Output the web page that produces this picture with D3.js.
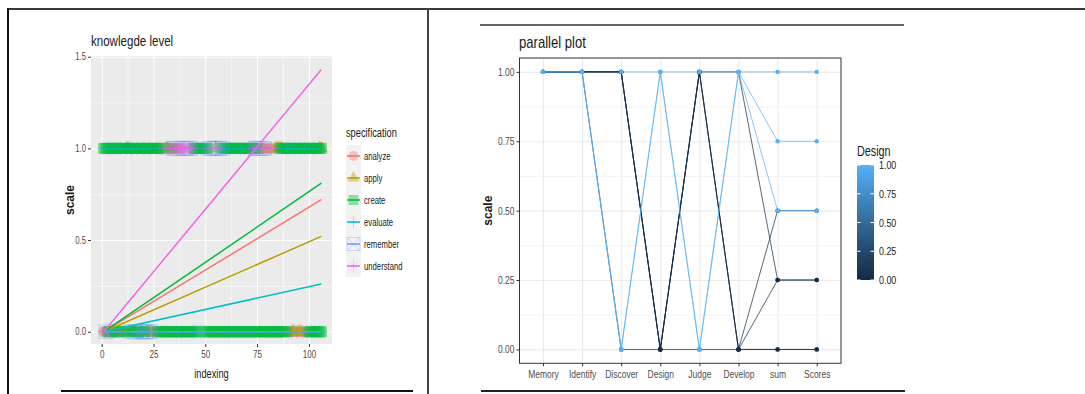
<!DOCTYPE html>
<html>
<head>
<meta charset="utf-8">
<script src="https://cdn.jsdelivr.net/npm/d3@7"></script>
<style>
  body { margin: 0; background: #fff; }
  svg { display: block; font-family: 'Liberation Sans', Arial, sans-serif; }
</style>
</head>
<body>
<script>
// ---------------- left chart data: knowlegde level ----------------
var specs = ['analyze', 'apply', 'create', 'evaluate', 'remember', 'understand'];
var specColors = ['#F8766D', '#B79F00', '#00BA38', '#00BFC4', '#619CFF', '#F564E3'];
var specShapes = ['circle', 'triangle', 'square', 'plus', 'squarecross', 'asterisk'];
// fitted line per specification: value at indexing = fitRange[1] (starts at 0)
var fitRange = [1, 106];
var fitEnd = [0.72, 0.52, 0.81, 0.26, 0.0, 1.43];
// observations per index 1..106: '1' = a point of that spec at that level
var pointsAtOne = [
  '0000000000 0000000000 0000000000 0011011110 0000000000 0000000000 0000000000 0000001110 1100000000 0000000000 000000',
  '0000000000 0110000000 0000000000 1100000000 0000000000 0000100000 0000000000 0000000000 0001111000 0000000000 000011',
  '1111111111 1111111111 1111111110 0001000000 0001111111 1000000111 1111111111 1111100000 0000011111 1111111111 111111',
  '1011010110 0101101001 1010010110 0100101001 1001010100 0110101101 0101001010 1010110100 0100101011 1010010101 011010',
  '0000000000 0000000000 0000000000 0000111011 1110000000 0111111100 0000000000 0001111100 0000000000 0000000000 000000',
  '0000000000 0000000000 0000000001 1110111111 1111000000 0110110000 0000000000 0011011011 1110000000 0000000000 000000'
];
var pointsAtZero = [
  '1100111001 0000111110 0011110000 0000000000 0000000000 0000000000 0000000000 0000000000 0000000001 1111111110 000000',
  '0000000110 1011011010 1111000000 0000000000 0000000000 0000000000 0000000000 0000000000 0000000000 0110110000 000000',
  '0011011100 0110101101 1000001111 1111111111 1111110001 1111111111 1111111111 1111111111 1111111110 0000000001 111111',
  '0101010101 1001001001 0100101010 1010010100 1001111111 0101001010 1010100101 0101010010 1010101001 0101001010 101011',
  '0100000000 0000110011 1110000000 0000000000 0000000000 0000000000 0000000000 0000000000 0000000000 0000000000 000000',
  '1110000100 0000000000 0000000000 0000000000 0000000000 0000000000 0000000000 0000000000 0000000000 0000000000 000000'
];
var xTicksL = [0, 25, 50, 75, 100];
var yTicksL = [0, 0.5, 1.0, 1.5];

// ---------------- right chart data: parallel plot ----------------
var pcAxes = ['Memory', 'Identify', 'Discover', 'Design', 'Judge', 'Develop', 'sum', 'Scores'];
var pcRows = [
  [1, 1, 1, 0, 1, 1, 0.25, 0.25],
  [1, 1, 1, 1, 1, 1, 1, 1],
  [1, 1, 1, 0, 1, 0, 0.25, 0.25],
  [1, 1, 1, 0, 1, 0, 0.5, 0.5],
  [1, 1, 1, 0, 1, 0, 0, 0],
  [1, 1, 0, 0, 0, 0, 0, 0],
  [1, 1, 0, 1, 0, 1, 0.75, 0.75],
  [1, 1, 0, 1, 0, 1, 0.5, 0.5]
];
var yTicksR = [0, 0.25, 0.5, 0.75, 1];

var svg = d3.select('body').append('svg')
    .attr('width', 1085)
    .attr('height', 394);

function shapePath(name, s) {
    var d = s * 0.707;
    switch (name) {
        case 'circle': return d3.symbol(d3.symbolCircle, s * s * 3.1)();
        case 'triangle': return d3.symbol(d3.symbolTriangle, s * s * 2.6)();
        case 'square': return d3.symbol(d3.symbolSquare, s * s * 4)();
        case 'plus': return 'M' + (-s) + ',0H' + s + 'M0,' + (-s) + 'V' + s;
        case 'squarecross': return 'M' + (-s) + ',' + (-s) + 'H' + s + 'V' + s + 'H' + (-s) + 'Z' +
            'M' + (-s) + ',' + (-s) + 'L' + s + ',' + s + 'M' + s + ',' + (-s) + 'L' + (-s) + ',' + s;
        default: return 'M' + (-s) + ',0H' + s + 'M0,' + (-s) + 'V' + s +
            'M' + (-d) + ',' + (-d) + 'L' + d + ',' + d + 'M' + d + ',' + (-d) + 'L' + (-d) + ',' + d;
    }
}
function isFilled(name) { return name === 'circle' || name === 'triangle' || name === 'square'; }

////////////////////////////// left chart //////////////////////////////
var L = {left: 91, right: 332, top: 56, bottom: 344};
var xL = d3.scaleLinear().domain([-5.15, 111.15]).range([L.left, L.right]);
var yL = d3.scaleLinear().domain([-0.067, 1.504]).range([L.bottom, L.top]);

var gL = svg.append('g');
gL.append('rect')
    .attr('x', L.left).attr('y', L.top)
    .attr('width', L.right - L.left).attr('height', L.bottom - L.top)
    .attr('fill', '#EBEBEB');

// grid (minor then major)
gL.append('g').attr('transform', 'translate(0,' + L.bottom + ')')
    .call(d3.axisBottom(xL).tickValues([12.5, 37.5, 62.5, 87.5]).tickSize(-(L.bottom - L.top)).tickFormat(''))
    .call(function(g) { g.select('.domain').remove(); g.selectAll('line').attr('stroke', '#fff').attr('stroke-width', 0.5); });
gL.append('g').attr('transform', 'translate(' + L.left + ',0)')
    .call(d3.axisLeft(yL).tickValues([0.25, 0.75, 1.25]).tickSize(-(L.right - L.left)).tickFormat(''))
    .call(function(g) { g.select('.domain').remove(); g.selectAll('line').attr('stroke', '#fff').attr('stroke-width', 0.5); });
gL.append('g').attr('transform', 'translate(0,' + L.bottom + ')')
    .call(d3.axisBottom(xL).tickValues(xTicksL).tickSize(-(L.bottom - L.top)).tickFormat(''))
    .call(function(g) { g.select('.domain').remove(); g.selectAll('line').attr('stroke', '#fff').attr('stroke-width', 1); });
gL.append('g').attr('transform', 'translate(' + L.left + ',0)')
    .call(d3.axisLeft(yL).tickValues(yTicksL).tickSize(-(L.right - L.left)).tickFormat(''))
    .call(function(g) { g.select('.domain').remove(); g.selectAll('line').attr('stroke', '#fff').attr('stroke-width', 1); });

// points
var pts = [];
specs.forEach(function(s, k) {
    [[pointsAtOne[k], 1], [pointsAtZero[k], 0]].forEach(function(p) {
        p[0].replace(/ /g, '').split('').forEach(function(c, i) {
            if (c === '1') pts.push({spec: k, idx: i + 1, val: p[1]});
        });
    });
});
gL.append('g').selectAll('path')
    .data(pts)
    .enter()
    .append('path')
    .attr('transform', function(d) { return 'translate(' + xL(d.idx) + ',' + yL(d.val) + ')'; })
    .attr('d', function(d) { return shapePath(specShapes[d.spec], isFilled(specShapes[d.spec]) ? 5.5 : 7); })
    .attr('fill', function(d) { return isFilled(specShapes[d.spec]) ? specColors[d.spec] : 'none'; })
    .attr('stroke', function(d) { return isFilled(specShapes[d.spec]) ? 'none' : specColors[d.spec]; })
    .attr('stroke-width', 0.8)
    .attr('opacity', function(d) { return isFilled(specShapes[d.spec]) ? 0.5 : 0.35; });

// fitted lines
gL.append('g').selectAll('line')
    .data(specs)
    .enter()
    .append('line')
    .attr('x1', xL(fitRange[0])).attr('y1', yL(0))
    .attr('x2', xL(fitRange[1]))
    .attr('y2', function(d, i) { return yL(fitEnd[i]); })
    .attr('stroke', function(d, i) { return specColors[i]; })
    .attr('stroke-width', 1.5);

// axes
gL.append('g').attr('transform', 'translate(0,' + L.bottom + ')')
    .call(d3.axisBottom(xL).tickValues(xTicksL).tickFormat(d3.format('d')).tickSize(3).tickPadding(4))
    .call(function(g) {
        g.select('.domain').remove();
        g.selectAll('line').attr('stroke', '#333');
        g.selectAll('text').attr('fill', '#4D4D4D').attr('font-size', '10.5px').attr('font-family', null);
    });
gL.append('g').attr('transform', 'translate(' + L.left + ',0)')
    .call(d3.axisLeft(yL).tickValues(yTicksL).tickFormat(d3.format('.1f')).tickSize(3).tickPadding(2))
    .call(function(g) {
        g.select('.domain').remove();
        g.selectAll('line').attr('stroke', '#333');
        g.selectAll('text').attr('fill', '#4D4D4D').attr('font-size', '10px').attr('font-family', null);
    });

gL.append('text').attr('x', 91).attr('y', 46).attr('font-size', '15px').attr('fill', '#1a1a1a').text('knowlegde level');
gL.append('text').attr('x', (L.left + L.right) / 2).attr('y', 378).attr('text-anchor', 'middle')
    .attr('font-size', '12px').attr('fill', '#1a1a1a').text('indexing');
gL.append('text').attr('class', 'rot')
    .attr('transform', 'translate(74,' + (L.top + L.bottom) / 2 + ') rotate(-90)')
    .attr('text-anchor', 'middle').attr('font-size', '12px').attr('font-weight', 'bold')
    .attr('fill', '#1a1a1a').text('scale');

// legend
var legL = gL.append('g').attr('transform', 'translate(346,145)');
legL.append('text').attr('x', 0).attr('y', -8).attr('font-size', '12px').attr('fill', '#1a1a1a').text('specification');
var keys = legL.selectAll('.key')
    .data(specs)
    .enter()
    .append('g')
    .attr('class', 'key')
    .attr('transform', function(d, i) { return 'translate(0,' + (i * 22) + ')'; });
keys.append('rect').attr('width', 15).attr('height', 22).attr('fill', '#F2F2F2');
keys.append('line').attr('x1', 1).attr('x2', 14).attr('y1', 11).attr('y2', 11)
    .attr('stroke', function(d, i) { return specColors[i]; }).attr('stroke-width', 1.5);
keys.append('path')
    .attr('transform', 'translate(7.5,11)')
    .attr('d', function(d, i) { return shapePath(specShapes[i], isFilled(specShapes[i]) ? 5 : 6.5); })
    .attr('fill', function(d, i) { return isFilled(specShapes[i]) ? specColors[i] : 'none'; })
    .attr('stroke', function(d, i) { return isFilled(specShapes[i]) ? 'none' : specColors[i]; })
    .attr('stroke-width', 0.8)
    .attr('opacity', 0.4);
keys.append('text').attr('x', 18).attr('y', 14.5).attr('font-size', '10px').attr('fill', '#1a1a1a')
    .text(function(d) { return d; });

////////////////////////////// right chart //////////////////////////////
var R = {left: 519.5, right: 841, top: 58, bottom: 363.3};
var xR = d3.scalePoint().domain(pcAxes).range([543, 816.7]);
var yR = d3.scaleLinear().domain([-0.05, 1.05]).range([R.bottom, R.top]);
var colR = d3.scaleLinear().domain([0, 1]).range(['#132B43', '#56B1F7']).interpolate(d3.interpolateLab);

var gR = svg.append('g');
gR.append('g').attr('transform', 'translate(' + R.left + ',0)')
    .call(d3.axisLeft(yR).tickValues([0.125, 0.375, 0.625, 0.875]).tickSize(-(R.right - R.left)).tickFormat(''))
    .call(function(g) { g.select('.domain').remove(); g.selectAll('line').attr('stroke', '#EBEBEB').attr('stroke-width', 0.6); });
gR.append('g').attr('transform', 'translate(' + R.left + ',0)')
    .call(d3.axisLeft(yR).tickValues(yTicksR).tickSize(-(R.right - R.left)).tickFormat(''))
    .call(function(g) { g.select('.domain').remove(); g.selectAll('line').attr('stroke', '#EBEBEB').attr('stroke-width', 1.1); });
gR.append('g').attr('transform', 'translate(0,' + R.bottom + ')')
    .call(d3.axisBottom(xR).tickSize(-(R.bottom - R.top)).tickFormat(''))
    .call(function(g) { g.select('.domain').remove(); g.selectAll('line').attr('stroke', '#EBEBEB').attr('stroke-width', 1.1); });

var lineR = d3.line()
    .x(function(d, i) { return xR(pcAxes[i]); })
    .y(function(d) { return yR(d); });
gR.append('g').selectAll('path')
    .data(pcRows)
    .enter()
    .append('path')
    .attr('d', lineR)
    .attr('fill', 'none')
    .attr('stroke', function(d) { return colR(d[3]); })
    .attr('stroke-width', 1)
    .attr('opacity', 0.7);

var dots = [];
pcRows.slice().sort(function(a, b) { return a[3] - b[3]; }).forEach(function(r) {
    r.forEach(function(v, i) { dots.push({axis: pcAxes[i], val: v, design: r[3]}); });
});
gR.append('g').selectAll('circle')
    .data(dots)
    .enter()
    .append('circle')
    .attr('cx', function(d) { return xR(d.axis); })
    .attr('cy', function(d) { return yR(d.val); })
    .attr('r', 2.2)
    .attr('fill', function(d) { return colR(d.design); });

gR.append('rect')
    .attr('x', R.left).attr('y', R.top)
    .attr('width', R.right - R.left).attr('height', R.bottom - R.top)
    .attr('fill', 'none').attr('stroke', '#333').attr('stroke-width', 1);

gR.append('g').attr('transform', 'translate(' + R.left + ',0)')
    .call(d3.axisLeft(yR).tickValues(yTicksR).tickFormat(d3.format('.2f')).tickSize(3).tickPadding(2))
    .call(function(g) {
        g.select('.domain').remove();
        g.selectAll('line').attr('stroke', '#333');
        g.selectAll('text').attr('fill', '#4D4D4D').attr('font-size', '11px').attr('font-family', null);
    });
gR.append('g').attr('transform', 'translate(0,' + R.bottom + ')')
    .call(d3.axisBottom(xR).tickSize(3).tickPadding(4))
    .call(function(g) {
        g.select('.domain').remove();
        g.selectAll('line').attr('stroke', '#333');
        g.selectAll('text').attr('fill', '#4D4D4D').attr('font-size', '11px').attr('font-family', null);
    });

gR.append('text').attr('x', 519).attr('y', 48).attr('font-size', '17px').attr('fill', '#1a1a1a').text('parallel plot');
gR.append('text').attr('class', 'rot')
    .attr('transform', 'translate(492,' + (R.top + R.bottom) / 2 + ') rotate(-90)')
    .attr('text-anchor', 'middle').attr('font-size', '12px').attr('font-weight', 'bold')
    .attr('fill', '#1a1a1a').text('scale');

// colour bar legend
var cb = {x: 857, w: 17, top: 165, bottom: 280};
var yCb = d3.scaleLinear().domain([0, 1]).range([cb.bottom, cb.top]);
var grad = svg.append('defs').append('linearGradient')
    .attr('id', 'designGrad').attr('x1', 0).attr('y1', 1).attr('x2', 0).attr('y2', 0);
d3.range(0, 1.01, 0.1).forEach(function(t) {
    grad.append('stop').attr('offset', t).attr('stop-color', colR(t));
});
gR.append('text').attr('x', cb.x).attr('y', 156).attr('font-size', '14px').attr('fill', '#1a1a1a').text('Design');
gR.append('rect').attr('x', cb.x).attr('y', cb.top).attr('width', cb.w).attr('height', cb.bottom - cb.top)
    .attr('fill', 'url(#designGrad)');
yTicksR.forEach(function(t) {
    gR.append('line').attr('x1', cb.x).attr('x2', cb.x + 3.5).attr('y1', yCb(t)).attr('y2', yCb(t))
        .attr('stroke', '#fff').attr('stroke-width', 1);
    gR.append('line').attr('x1', cb.x + cb.w - 3.5).attr('x2', cb.x + cb.w).attr('y1', yCb(t)).attr('y2', yCb(t))
        .attr('stroke', '#fff').attr('stroke-width', 1);
});
gR.append('g').selectAll('text')
    .data(yTicksR)
    .enter()
    .append('text')
    .attr('x', cb.x + cb.w + 5)
    .attr('y', function(d) { return yCb(d); })
    .attr('dy', '0.35em')
    .attr('font-size', '11.5px')
    .attr('fill', '#1a1a1a')
    .text(d3.format('.2f'));

// the source picture is squeezed sideways: condense horizontal text to match
svg.selectAll('text').filter(function() { return !this.classList.contains('rot'); })
    .each(function() {
        var w = this.getComputedTextLength();
        d3.select(this).attr('textLength', w * 0.77).attr('lengthAdjust', 'spacingAndGlyphs');
    });

////////////////////////////// page frame //////////////////////////////
var frame = svg.append('g').attr('stroke-linecap', 'butt');
frame.append('line').attr('x1', 7).attr('x2', 1085).attr('y1', 9).attr('y2', 9).attr('stroke', '#3a3a3a').attr('stroke-width', 2);
frame.append('line').attr('x1', 8).attr('x2', 8).attr('y1', 8).attr('y2', 394).attr('stroke', '#111').attr('stroke-width', 2);
frame.append('line').attr('x1', 428).attr('x2', 428).attr('y1', 8).attr('y2', 394).attr('stroke', '#444').attr('stroke-width', 2);
frame.append('line').attr('x1', 61).attr('x2', 413).attr('y1', 391).attr('y2', 391).attr('stroke', '#111').attr('stroke-width', 2);
frame.append('line').attr('x1', 480).attr('x2', 904).attr('y1', 25).attr('y2', 25).attr('stroke', '#333').attr('stroke-width', 1.5);
frame.append('line').attr('x1', 481).attr('x2', 905).attr('y1', 391).attr('y2', 391).attr('stroke', '#222').attr('stroke-width', 2);
</script>
</body>
</html>
